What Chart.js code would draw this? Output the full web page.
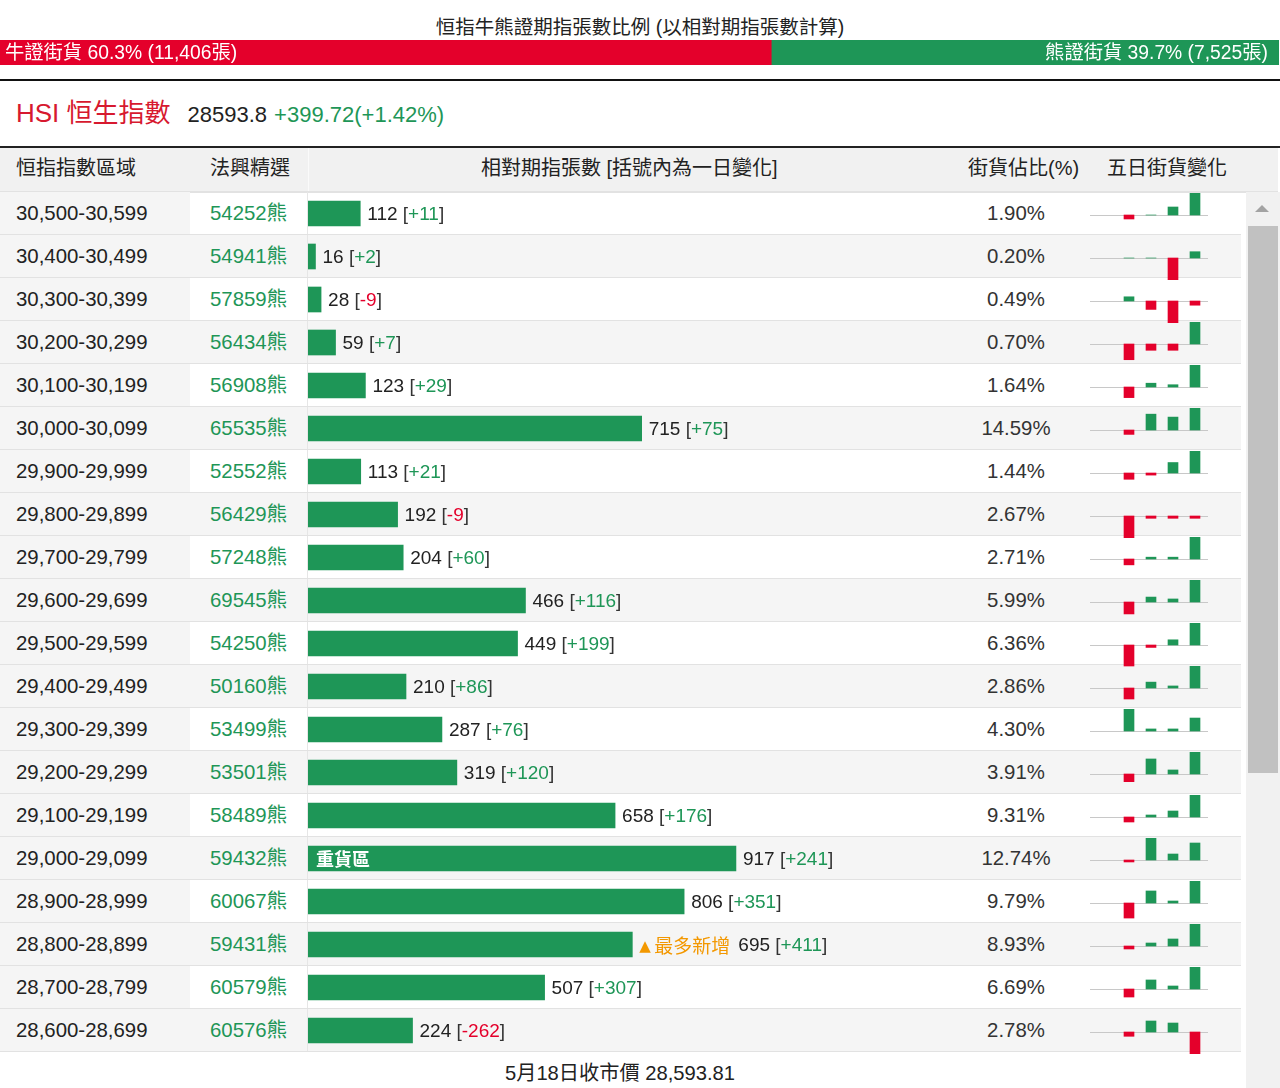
<!DOCTYPE html>
<html>
<head>
<meta charset="utf-8">
<script src="https://cdn.jsdelivr.net/npm/chart.js@4.4.1/dist/chart.umd.min.js"></script>
<style>
body{margin:0;width:1280px;height:1088px;position:relative;overflow:hidden;background:#fff;
  font-family:"Liberation Sans",Arial,"Noto Sans CJK TC",sans-serif;color:#222}
.abs{position:absolute;white-space:nowrap}
.row{position:absolute;left:0;width:1241px;height:43px;line-height:43px;font-size:20.4px;border-bottom:1px solid #e2e2e2;box-sizing:border-box}
.row .c1{position:absolute;left:0;top:0;width:190px;height:42px;background:#f5f5f5}
.row .c1 span{position:absolute;left:16px}
.row .c2{position:absolute;left:210px;color:#1e9657}
.row .c3{position:absolute;left:956px;width:120px;text-align:center;color:#333}
.row .sep{position:absolute;left:307px;top:0;width:1px;height:42px;background:#e6e6e6}
.row.even{background:#f5f5f5}
canvas{position:absolute}
</style>
</head>
<body>

<div class="abs" style="left:0;width:1280px;top:14px;line-height:26px;font-size:19.5px;text-align:center;color:#222">恒指牛熊證期指張數比例 (以相對期指張數計算)</div>
<canvas id="bullbear" width="1279" height="25" style="left:0;top:40px"></canvas>
<div class="abs" id="bullText" style="left:5px;top:40px;line-height:25px;font-size:19.3px;color:#fff;z-index:2"></div>
<div class="abs" id="bearText" style="right:12px;top:40px;line-height:25px;font-size:19.3px;color:#fff;z-index:2"></div>
<div class="abs" style="left:0;top:79px;width:1280px;height:2px;background:#111"></div>

<div class="abs" style="left:16px;top:94px;line-height:38px">
  <span style="font-size:26px;color:#d7192f">HSI 恒生指數</span><span style="font-size:22px;color:#222;margin-left:17px">28593.8</span><span style="font-size:22px;color:#1e9657;margin-left:7px">+399.72(+1.42%)</span>
</div>

<div class="abs" style="left:0;top:146px;width:1280px;height:2px;background:#222"></div>
<div class="abs" style="left:0;top:148px;width:1278px;height:43px;background:#f1f1f1;border-bottom:2px solid #e2e2e2"></div>
<div class="abs" style="left:308px;top:148px;width:1px;height:43px;background:#fafafa"></div>
<div class="abs" style="left:16px;top:148px;line-height:41px;font-size:20px">恒指指數區域</div>
<div class="abs" style="left:210px;top:148px;line-height:41px;font-size:20px">法興精選</div>
<div class="abs" style="left:481px;top:148px;line-height:41px;font-size:20px">相對期指張數 [括號內為一日變化]</div>
<div class="abs" style="left:968px;top:148px;line-height:41px;font-size:20px">街貨佔比(%)</div>
<div class="abs" style="left:1107px;top:148px;line-height:41px;font-size:20px">五日街貨變化</div>

<div id="rows"></div>

<div class="abs" style="left:1246px;top:192px;width:34px;height:896px;background:#f1f1f1"></div>
<div class="abs" style="left:1255px;top:205px;width:0;height:0;border-left:7px solid transparent;border-right:7px solid transparent;border-bottom:7px solid #a3a3a3"></div>
<div class="abs" style="left:1248px;top:226px;width:30px;height:547px;background:#c1c1c1"></div>

<div class="abs" style="left:0;width:1240px;top:1060px;line-height:26px;font-size:20.2px;text-align:center;color:#222">5月18日收市價 28,593.81</div>

<script>
var ranges = ['30,500-30,599','30,400-30,499','30,300-30,399','30,200-30,299','30,100-30,199',
  '30,000-30,099','29,900-29,999','29,800-29,899','29,700-29,799','29,600-29,699',
  '29,500-29,599','29,400-29,499','29,300-29,399','29,200-29,299','29,100-29,199',
  '29,000-29,099','28,900-28,999','28,800-28,899','28,700-28,799','28,600-28,699']
var codes = ['54252','54941','57859','56434','56908','65535','52552','56429','57248','69545',
  '54250','50160','53499','53501','58489','59432','60067','59431','60579','60576']
var contracts = [112, 16, 28, 59, 123, 715, 113, 192, 204, 466, 449, 210, 287, 319, 658, 917, 806, 695, 507, 224]
var dayChange = [11, 2, -9, 7, 29, 75, 21, -9, 60, 116, 199, 86, 76, 120, 176, 241, 351, 411, 307, -262]
var sharePct = ['1.90','0.20','0.49','0.70','1.64','14.59','1.44','2.67','2.71','5.99',
  '6.36','2.86','4.30','3.91','9.31','12.74','9.79','8.93','6.69','2.78']
// five day change, first day has no bar
var dayLabels = ['D1','D2','D3','D4','D5']
var fiveDay = [
  [null, -2, 0, 4, 11],
  [null, 0, 0, -7, 2],
  [null, 9, -18, -47, -9],
  [null, -5, -2, -2, 7],
  [null, -14, 5, 3, 29],
  [null, -15, 54, 44, 75],
  [null, -6, -2, 10, 21],
  [null, -86, -9, -9, -9],
  [null, -16, 5, 5, 60],
  [null, -63, 26, 16, 116],
  [null, -190, -22, 47, 199],
  [null, -43, 23, 8, 86],
  [null, 129, 12, 12, 76],
  [null, -42, 82, 22, 120],
  [null, -40, 16, 48, 176],
  [null, -28, 312, 85, 241],
  [null, -240, 192, 32, 351],
  [null, -56, 56, 131, 411],
  [null, -112, 126, 42, 307],
  [null, -51, 131, 107, -262]
]
var bullBearPct = [60.3, 39.7]
var bullBearCount = ['11,406', '7,525']

var GREEN = '#1e9657'
var RED = '#e4002b'
var ROW_TOP = 192
var ROW_H = 43

/*----- bull / bear bar -----*/
document.getElementById('bullText').textContent = '牛證街貨 ' + bullBearPct[0] + '% (' + bullBearCount[0] + '張)'
document.getElementById('bearText').textContent = '熊證街貨 ' + bullBearPct[1] + '% (' + bullBearCount[1] + '張)'
new Chart(document.getElementById('bullbear').getContext('2d'), {
  type: 'bar',
  data: {
    labels: ['比例'],
    datasets: [
      {label: '牛證', data: [bullBearPct[0]], backgroundColor: RED, barPercentage: 1, categoryPercentage: 1},
      {label: '熊證', data: [bullBearPct[1]], backgroundColor: GREEN, barPercentage: 1, categoryPercentage: 1}
    ]
  },
  options: {
    indexAxis: 'y', responsive: false, animation: false,
    layout: {padding: 0},
    plugins: {legend: {display: false}, tooltip: {enabled: false}},
    scales: {
      x: {stacked: true, display: false, min: 0, max: 100},
      y: {stacked: true, display: false}
    }
  }
})

/*----- table rows -----*/
var rowsDiv = document.getElementById('rows')
for (var i = 0; i < ranges.length; i++) {
  var r = document.createElement('div')
  r.className = 'row' + (i % 2 ? ' even' : '')
  r.style.top = (ROW_TOP + i * ROW_H) + 'px'
  r.innerHTML = '<div class="c1"><span>' + ranges[i] + '</span></div>' +
    '<span class="c2">' + codes[i] + '熊</span>' +
    '<div class="sep"></div>' +
    '<span class="c3">' + sharePct[i] + '%</span>'
  rowsDiv.appendChild(r)
}

/*----- main horizontal bars -----*/
var labelPlugin = {
  id: 'barLabels',
  afterDatasetsDraw: function (chart) {
    var ctx = chart.ctx
    var meta = chart.getDatasetMeta(0)
    var x0 = chart.scales.x.getPixelForValue(0)
    var maxIdx = contracts.indexOf(Math.max.apply(null, contracts))
    var newIdx = dayChange.indexOf(Math.max.apply(null, dayChange))
    ctx.save()
    ctx.textBaseline = 'middle'
    ctx.textAlign = 'left'
    meta.data.forEach(function (bar, i) {
      var x = bar.x + 7
      var y = bar.y + 1
      var font = '19px "Liberation Sans", Arial, "Noto Sans CJK TC", sans-serif'
      if (i === maxIdx) {
        ctx.font = 'bold 18px "Noto Sans CJK TC", sans-serif'
        ctx.fillStyle = '#fff'
        ctx.fillText('重貨區', x0 + 8, y)
      }
      if (i === newIdx) {
        ctx.fillStyle = '#f39800'
        ctx.font = '15px "DejaVu Sans", sans-serif'
        ctx.fillText('▲', x, y + 2)
        x += 15
        ctx.font = '19px "Noto Sans CJK TC", sans-serif'
        ctx.fillText('最多新增', x, y)
        x += ctx.measureText('最多新增').width + 8
      }
      var ch = dayChange[i]
      var parts = [
        [contracts[i] + ' ', '#222'],
        ['[', '#333'],
        [(ch > 0 ? '+' : '') + ch, ch < 0 ? RED : GREEN],
        [']', '#333']
      ]
      ctx.font = font
      parts.forEach(function (p) {
        ctx.fillStyle = p[1]
        ctx.fillText(p[0], x, y)
        x += ctx.measureText(p[0]).width
      })
    })
    ctx.restore()
  }
}

var mainCanvas = document.createElement('canvas')
mainCanvas.width = 700
mainCanvas.height = ranges.length * ROW_H
mainCanvas.style.left = '308px'
mainCanvas.style.top = ROW_TOP + 'px'
document.body.appendChild(mainCanvas)
new Chart(mainCanvas.getContext('2d'), {
  type: 'bar',
  data: {
    labels: ranges,
    datasets: [{label: '相對期指張數', data: contracts, backgroundColor: GREEN, barThickness: 25}]
  },
  options: {
    indexAxis: 'y', responsive: false, animation: false,
    layout: {padding: 0},
    plugins: {legend: {display: false}, tooltip: {enabled: false}},
    scales: {
      x: {display: false, min: 0, max: 1500},
      y: {display: false}
    }
  },
  plugins: [labelPlugin]
})

/*----- five day mini charts -----*/
var baseline = {
  id: 'baseline',
  beforeDatasetsDraw: function (chart) {
    var ctx = chart.ctx
    var y = Math.round(chart.scales.y.getPixelForValue(0)) + 0.5
    ctx.save()
    ctx.strokeStyle = '#c8c8c8'
    ctx.lineWidth = 1
    ctx.beginPath()
    ctx.moveTo(0, y)
    ctx.lineTo(chart.width, y)
    ctx.stroke()
    ctx.restore()
  }
}
for (var k = 0; k < fiveDay.length; k++) {
  var vals = fiveDay[k]
  var m = 0
  vals.forEach(function (v) { if (v !== null && Math.abs(v) > m) m = Math.abs(v) })
  var cv = document.createElement('canvas')
  cv.width = 118
  cv.height = 47
  cv.style.left = '1090px'
  cv.style.top = (ROW_TOP + k * ROW_H) + 'px'
  document.body.appendChild(cv)
  new Chart(cv.getContext('2d'), {
    type: 'bar',
    data: {
      labels: dayLabels,
      datasets: [{
        data: vals,
        barThickness: 10,
        backgroundColor: vals.map(function (v) { return v < 0 ? RED : GREEN })
      }]
    },
    options: {
      responsive: false, animation: false,
      layout: {padding: {left: 6, right: 2, top: 1, bottom: 2}},
      plugins: {legend: {display: false}, tooltip: {enabled: false}},
      scales: {
        x: {display: false},
        y: {display: false, min: -m, max: m}
      }
    },
    plugins: [baseline]
  })
}
</script>
</body>
</html>
